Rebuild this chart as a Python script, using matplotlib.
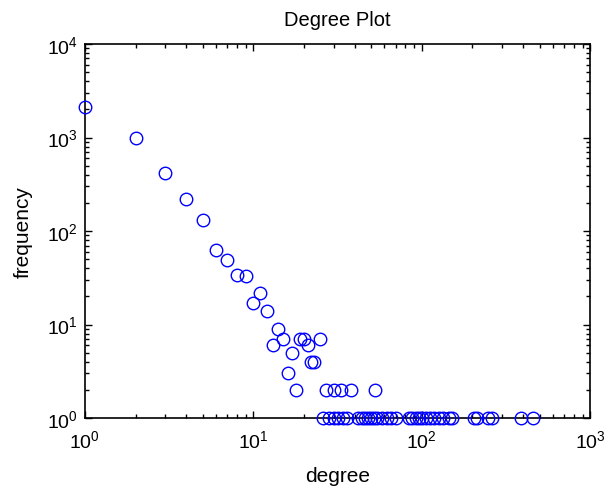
import matplotlib.pyplot as plt
from matplotlib.ticker import LogLocator, NullFormatter

plt.rcParams['font.family'] = ['Liberation Sans', 'DejaVu Sans']
plt.rcParams['mathtext.fontset'] = 'custom'
plt.rcParams['mathtext.rm'] = 'Liberation Sans'
plt.rcParams['mathtext.it'] = 'Liberation Sans:italic'

# degree / frequency pairs
degree = [1, 2, 3, 4, 5, 6, 7, 8, 9, 10, 11, 12, 13, 14, 15, 16, 17, 18,
          19, 20, 21, 22, 23, 25,
          27, 30, 33, 38, 53,
          26, 28, 30, 32, 34, 36, 42, 44, 46, 48, 50, 52, 54,
          58, 62, 66, 70, 84, 88, 92, 96, 100, 106, 112,
          118, 126, 134, 145, 152, 205, 214, 248, 262, 390, 460]
frequency = [2100, 980, 413, 220, 131, 63, 49, 34, 33, 17, 22, 14, 6, 9, 7, 3, 5, 2,
             7, 7, 6, 4, 4, 7,
             2, 2, 2, 2, 2,
             1, 1, 1, 1, 1, 1, 1, 1, 1, 1, 1, 1, 1,
             1, 1, 1, 1, 1, 1, 1, 1, 1, 1, 1,
             1, 1, 1, 1, 1, 1, 1, 1, 1, 1, 1]

fig = plt.figure(figsize=(6.06, 4.89), dpi=100)
ax = fig.add_axes([0.140, 0.143, 0.834, 0.765])

# markers are not clipped at the axes edge, like the MATLAB original
ax.loglog(degree, frequency, 'o', mfc='none', mec='#0000ff', ms=9, mew=1.0,
          clip_on=False, zorder=3)

ax.set_xlim(1, 1000)
ax.set_ylim(1, 10000)
ax.xaxis.set_major_locator(LogLocator(base=10, numticks=10))
ax.yaxis.set_major_locator(LogLocator(base=10, numticks=10))
ax.xaxis.set_minor_locator(LogLocator(base=10, subs=range(2, 10), numticks=20))
ax.yaxis.set_minor_locator(LogLocator(base=10, subs=range(2, 10), numticks=20))
ax.xaxis.set_minor_formatter(NullFormatter())
ax.yaxis.set_minor_formatter(NullFormatter())
ax.tick_params(which='both', direction='in', top=True, right=True, labelsize=14)
ax.tick_params(which='major', length=5, width=1)
ax.tick_params(which='minor', length=3, width=1)
ax.tick_params(axis='x', pad=8)
ax.tick_params(axis='y', pad=5)
for s in ax.spines.values():
    s.set_linewidth(1.2)

ax.set_title('Degree Plot', fontsize=14.5, pad=14)
ax.set_xlabel('degree', fontsize=15, labelpad=11)
ax.set_ylabel('frequency', fontsize=15, labelpad=10)

fig.savefig('out.png', dpi=100)
